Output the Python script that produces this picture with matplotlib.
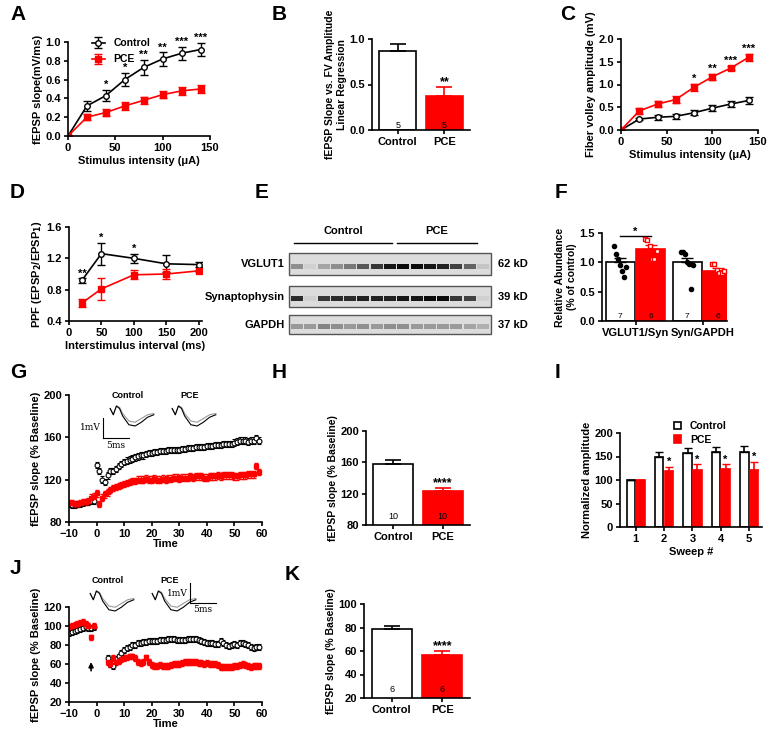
import numpy as np
import matplotlib
matplotlib.use("Agg")
import matplotlib.pyplot as plt
from matplotlib.patches import Rectangle

plt.rcParams["font.family"] = "Liberation Sans"
plt.rcParams["font.weight"] = "bold"
plt.rcParams["axes.labelweight"] = "bold"
plt.rcParams["font.size"] = 7.5
plt.rcParams["axes.linewidth"] = 1.2
plt.rcParams["xtick.major.width"] = 1.2
plt.rcParams["ytick.major.width"] = 1.2
plt.rcParams["axes.labelpad"] = 2

RED = "#ff0000"
W, H = 770, 733

# ---- data ----
# A: fEPSP slope vs stimulus
stim = [0, 20, 40, 60, 80, 100, 120, 140]
a_ctrl = [0, 0.32, 0.43, 0.60, 0.73, 0.82, 0.88, 0.92]
a_ctrl_err = [0, 0.05, 0.06, 0.07, 0.08, 0.07, 0.07, 0.07]
a_pce = [0, 0.20, 0.25, 0.32, 0.38, 0.44, 0.48, 0.50]
a_pce_err = [0, 0.03, 0.04, 0.04, 0.04, 0.04, 0.04, 0.04]
a_stars = {40: "*", 60: "*", 80: "**", 100: "**", 120: "***", 140: "***"}

# B: linear regression slope
groups = ["Control", "PCE"]
b_vals = [0.87, 0.37]
b_err = [0.07, 0.10]
b_n = [5, 5]

# C: fiber volley
c_ctrl = [0, 0.24, 0.28, 0.30, 0.38, 0.48, 0.57, 0.65]
c_ctrl_err = [0, 0.03, 0.05, 0.05, 0.06, 0.07, 0.07, 0.08]
c_pce = [0, 0.42, 0.57, 0.67, 0.94, 1.17, 1.36, 1.60]
c_pce_err = [0, 0.06, 0.06, 0.07, 0.08, 0.07, 0.05, 0.08]
c_stars = {80: "*", 100: "**", 120: "***", 140: "***"}

# D: paired pulse facilitation
isi = [20, 50, 100, 150, 200]
d_ctrl = [0.92, 1.26, 1.20, 1.13, 1.12]
d_ctrl_err = [0.03, 0.14, 0.06, 0.11, 0.03]
d_pce = [0.63, 0.81, 0.99, 1.00, 1.04]
d_pce_err = [0.05, 0.14, 0.06, 0.06, 0.01]
d_stars = {20: "**", 50: "*", 100: "*"}

# E: western blot band intensities per lane
blot_rows = ["VGLUT1", "Synaptophysin", "GAPDH"]
blot_kd = ["62 kD", "39 kD", "37 kD"]
vglut1_lanes = [0.35, 0.05, 0.25, 0.35, 0.45, 0.6, 0.75, 0.9, 0.95, 0.95, 0.9, 0.85, 0.7, 0.55, 0.1]
syn_lanes = [0.8, 0.05, 0.75, 0.8, 0.8, 0.85, 0.85, 0.85, 0.9, 0.9, 0.95, 0.95, 0.75, 0.7, 0.05]
gapdh_lanes = [0.3, 0.3, 0.4, 0.35, 0.3, 0.35, 0.3, 0.35, 0.35, 0.3, 0.3, 0.3, 0.3, 0.25, 0.2]

# F: relative abundance
f_cats = ["VGLUT1/Syn", "Syn/GAPDH"]
f_ctrl = [1.0, 1.0]
f_ctrl_err = [0.08, 0.08]
f_pce = [1.23, 0.86]
f_pce_err = [0.06, 0.04]
f_ctrl_pts = [[1.27, 1.15, 1.05, 0.95, 0.85, 0.75, 0.92], [1.18, 1.17, 1.15, 1.0, 0.98, 0.55, 0.95]]
f_pce_pts = [[1.40, 1.38, 1.27, 1.05, 1.05, 1.20], [0.98, 0.98, 0.87, 0.82, 0.82, 0.85]]
f_n = [[7, 6], [7, 6]]

# G: LTP time course
g_time = list(range(-10, 60))
g_ctrl = [97, 96, 96, 97, 97, 98, 99, 99, 100, 100,
          134, 128, 120, 118, 124, 128, 128, 130, 133, 135,
          137, 138, 139, 140, 141, 142, 143, 143, 144, 145,
          145, 146, 146, 147, 147, 147, 148, 148, 148, 148,
          148, 149, 149, 150, 150, 150, 151, 151, 151, 151,
          152, 152, 152, 153, 153, 153, 154, 154, 154, 154,
          155, 156, 157, 157, 157, 156, 157, 157, 159, 157]
g_pce = [98, 98, 97, 97, 98, 99, 99, 100, 103, 104,
         107, 97, 103, 106, 108, 110, 112, 113, 114, 115,
         116, 117, 118, 119, 119, 120, 120, 120, 121, 120,
         120, 121, 120, 120, 121, 120, 121, 121, 122, 122,
         121, 122, 122, 122, 123, 122, 123, 123, 123, 122,
         122, 123, 123, 123, 124, 123, 124, 124, 124, 124,
         123, 123, 124, 124, 124, 125, 125, 125, 133, 127]

# H: LTP summary
h_vals = [158, 124]
h_err = [5, 3]
h_n = [10, 10]

# I: normalized amplitude per sweep
sweeps = [1, 2, 3, 4, 5]
i_ctrl = [100, 150, 158, 159, 160]
i_ctrl_err = [0, 10, 10, 12, 12]
i_pce = [100, 119, 122, 123, 121]
i_pce_err = [0, 9, 11, 10, 17]

# J: LTD time course (gap 0-3 min)
j_time = list(range(-10, 0)) + list(range(4, 60))
j_ctrl = [93, 94, 95, 96, 97, 98, 99, 98, 98, 99,
          66, 60, 58, 65, 68, 72, 75, 77, 78, 80, 80, 82, 82, 83, 83, 84,
          84, 84, 84, 85, 85, 85, 86, 86, 86, 85, 85, 85, 85, 86, 86, 86,
          86, 85, 84, 83, 82, 82, 82, 81, 81, 84, 82, 80, 79, 80, 81, 80,
          82, 82, 81, 80, 78, 77, 78, 78]
j_pce = [99, 100, 101, 102, 103, 104, 102, 100, 88, 100,
         62, 60, 66, 62, 63, 65, 66, 67, 68, 68, 66, 62, 61, 62, 67, 62,
         59, 58, 58, 59, 58, 58, 58, 59, 60, 60, 60, 61, 62, 62, 62, 62,
         62, 61, 61, 60, 61, 60, 60, 60, 59, 57, 57, 57, 57, 57, 58, 58,
         59, 60, 59, 58, 57, 58, 58, 58]

# K: LTD summary
k_vals = [79, 57]
k_err = [2, 3]
k_n = [6, 6]

# example traces (ms, mV) for insets
tr_t = [0, 0.5, 1, 1.5, 2, 3, 4, 5, 6, 7]
tr_base = [0, -0.5, 0.2, 0.1, -0.4, -1.0, -1.1, -0.8, -0.5, -0.4]
tr_after = [0, -0.5, 0.2, 0.0, -0.6, -1.3, -1.4, -1.1, -0.7, -0.5]

fig = plt.figure(figsize=(W / 100, H / 100), dpi=100)


def axpx(x0, x1, ytop, ybot):
    return fig.add_axes([x0 / W, 1 - ybot / H, (x1 - x0) / W, (ybot - ytop) / H])


def style(ax):
    ax.spines["top"].set_visible(False)
    ax.spines["right"].set_visible(False)
    ax.tick_params(length=3, width=1.2, labelsize=8, pad=2)


def letter(x, y, s):
    fig.text(x / W, 1 - y / H, s, fontsize=15, fontweight="bold", va="center", ha="left")


def two_bars(ax, vals, err, ns, ylo, ytick, stars, ylabel, nfrac=0.06):
    ax.bar([0], [vals[0]], width=0.8, color="white", edgecolor="black", lw=1.2,
           yerr=[[0], [err[0]]], error_kw=dict(ecolor="black", capsize=6, lw=1.2, capthick=1.2))
    ax.bar([1], [vals[1]], width=0.8, color=RED, edgecolor=RED, lw=1.2,
           yerr=[[0], [err[1]]], error_kw=dict(ecolor=RED, capsize=6, lw=1.2, capthick=1.2))
    ax.set_xlim(-0.55, 1.55)
    ax.set_ylim(ylo, ytick[-1])
    ax.set_yticks(ytick)
    ax.set_xticks([0, 1])
    ax.set_xticklabels(groups)
    ax.set_ylabel(ylabel, fontsize=7.5)
    style(ax)
    rng = ytick[-1] - ylo
    for i, n in enumerate(ns):
        ax.text(i, ylo + rng * nfrac, str(n), ha="center", fontsize=6.5, fontweight="normal")
    ax.text(1, vals[1] + err[1] + rng * 0.02, stars, ha="center", fontsize=9)


def curve(ax, x, y, e, col, mk, mfc):
    ax.errorbar(x, y, yerr=e, color=col, marker=mk, ms=4, mfc=mfc, mec=col, mew=1,
                lw=1.2, capsize=3, elinewidth=1)


# A
ax = axpx(68, 210, 42, 136)
curve(ax, stim, a_ctrl, a_ctrl_err, "black", "o", "white")
curve(ax, stim, a_pce, a_pce_err, RED, "s", RED)
for x, s in a_stars.items():
    i = stim.index(x)
    ax.text(x, a_ctrl[i] + a_ctrl_err[i] + 0.02, s, ha="center", fontsize=8)
ax.set_xlim(0, 150); ax.set_ylim(0, 1.0)
ax.set_xticks([0, 50, 100, 150]); ax.set_yticks(np.arange(0, 1.01, 0.2))
ax.set_yticklabels([f"{v:.1f}" for v in np.arange(0, 1.01, 0.2)])
ax.set_xlabel("Stimulus intensity (\u03bcA)", fontsize=8)
ax.set_ylabel("fEPSP slope(mV/ms)", fontsize=8)
ax.legend(["Control", "PCE"], loc="upper left", bbox_to_anchor=(0.1, 1.14), frameon=False,
          fontsize=7.5, handlelength=1.3, labelspacing=0.6)
style(ax)
letter(10, 15, "A")

# B
ax = axpx(372, 470, 39, 130)
two_bars(ax, b_vals, b_err, b_n, 0, [0.0, 0.5, 1.0], "**",
         "fEPSP Slope vs. FV Amplitude\nLinear Regression", nfrac=0.02)
ax.set_yticklabels(["0.0", "0.5", "1.0"])
letter(272, 15, "B")

# C
ax = axpx(621, 758, 39, 130)
curve(ax, stim, c_ctrl, c_ctrl_err, "black", "o", "white")
curve(ax, stim, c_pce, c_pce_err, RED, "s", RED)
for x, s in c_stars.items():
    i = stim.index(x)
    ax.text(x, c_pce[i] + c_pce_err[i] + 0.04, s, ha="center", fontsize=8)
ax.set_xlim(0, 150); ax.set_ylim(0, 2.0)
ax.set_xticks([0, 50, 100, 150]); ax.set_yticks([0, 0.5, 1.0, 1.5, 2.0])
ax.set_yticklabels(["0.0", "0.5", "1.0", "1.5", "2.0"])
ax.set_xlabel("Stimulus intensity (\u03bcA)", fontsize=8)
ax.set_ylabel("Fiber volley amplitude (mV)", fontsize=8)
style(ax)
letter(560, 15, "C")

# D
ax = axpx(69, 202, 227, 321)
curve(ax, isi, d_ctrl, d_ctrl_err, "black", "o", "white")
curve(ax, isi, d_pce, d_pce_err, RED, "s", RED)
for x, s in d_stars.items():
    i = isi.index(x)
    ax.text(x, d_ctrl[i] + d_ctrl_err[i] + 0.02, s, ha="center", fontsize=8)
ax.set_xlim(0, 205); ax.set_ylim(0.4, 1.6)
ax.set_xticks([0, 50, 100, 150, 200]); ax.set_yticks([0.4, 0.8, 1.2, 1.6])
ax.set_xlabel("Interstimulus interval (ms)", fontsize=8)
ax.set_ylabel("PPF (EPSP$_2$/EPSP$_1$)", fontsize=8)
style(ax)
letter(10, 192, "D")

# E: blot
ax = axpx(220, 560, 220, 345)
ax.set_xlim(220, 560); ax.set_ylim(345, 220)
ax.axis("off")
ax.plot([294, 392], [243, 243], color="black", lw=1)
ax.plot([397, 477], [243, 243], color="black", lw=1)
ax.text(343, 234, "Control", ha="center", fontsize=8)
ax.text(437, 234, "PCE", ha="center", fontsize=8)
boxes = [(253, 275), (286, 307), (315, 334)]
for (yt, yb), name, kd, lanes in zip(boxes, blot_rows, blot_kd, [vglut1_lanes, syn_lanes, gapdh_lanes]):
    ax.add_patch(Rectangle((289, yt), 202, yb - yt, facecolor="#dcdcdc", edgecolor="#555555", lw=1))
    xs = np.linspace(297, 483, len(lanes))
    ymid = (yt + yb) / 2 + 2
    for x, a in zip(xs, lanes):
        ax.add_patch(Rectangle((x - 6, ymid - 2.5), 12, 5, facecolor="black", alpha=a, lw=0))
    ax.text(285, (yt + yb) / 2, name, ha="right", va="center", fontsize=8)
    ax.text(498, (yt + yb) / 2, kd, ha="left", va="center", fontsize=8)
letter(255, 192, "E")

# F
ax = axpx(602, 727, 233, 321)
xc = np.array([0, 1.1])
ax.bar(xc - 0.25, f_ctrl, width=0.48, color="white", edgecolor="black", lw=1.2,
       yerr=[[0, 0], f_ctrl_err], error_kw=dict(ecolor="black", capsize=4, lw=1.2))
ax.bar(xc + 0.25, f_pce, width=0.48, color=RED, edgecolor=RED, lw=1.2,
       yerr=[[0, 0], f_pce_err], error_kw=dict(ecolor=RED, capsize=4, lw=1.2))
for k in range(2):
    pts = f_ctrl_pts[k]
    ax.scatter(xc[k] - 0.25 + np.linspace(-0.1, 0.1, len(pts)), pts, s=9, color="black", zorder=3)
    pts = f_pce_pts[k]
    ax.scatter(xc[k] + 0.25 + np.linspace(-0.1, 0.1, len(pts)), pts, s=12, marker="s",
               facecolor="white", edgecolor=RED, lw=1, zorder=3)
    ax.text(xc[k] - 0.25, 0.05, str(f_n[k][0]), ha="center", fontsize=6, fontweight="normal")
    ax.text(xc[k] + 0.25, 0.05, str(f_n[k][1]), ha="center", fontsize=6, fontweight="normal")
ax.plot([-0.25, 0.25], [1.45, 1.45], color="black", lw=1)
ax.text(0, 1.47, "*", ha="center", fontsize=8)
ax.set_xlim(-0.55, 1.5); ax.set_ylim(0, 1.5)
ax.set_yticks([0, 0.5, 1.0, 1.5]); ax.set_yticklabels(["0.0", "0.5", "1.0", "1.5"])
ax.set_xticks(xc); ax.set_xticklabels(f_cats)
ax.set_ylabel("Relative Abundance\n(% of control)", fontsize=7.5)
style(ax)
letter(555, 192, "F")


def inset_traces(x0, y0, labels, scalepos):
    for k, lab in enumerate(labels):
        iax = axpx(x0 + k * 62, x0 + k * 62 + 48, y0, y0 + 22)
        iax.plot(tr_t, tr_base, color="#999999", lw=0.8)
        iax.plot(tr_t, tr_after, color="black", lw=0.8)
        iax.axis("off")
        fig.text((x0 + k * 62 + 20) / W, 1 - (y0 - 7) / H, lab, ha="center", fontsize=6.5)
    sx, sy = scalepos
    fig.add_artist(plt.Line2D([sx / W, sx / W], [1 - sy / H, 1 - (sy + 20) / H], color="black", lw=0.8))
    fig.add_artist(plt.Line2D([sx / W, (sx + 26) / W], [1 - (sy + 20) / H] * 2, color="black", lw=0.8))
    fig.text((sx - 2) / W, 1 - (sy + 10) / H, "1mV", ha="right", va="center", fontsize=6.5,
             fontweight="normal", family="DejaVu Serif")
    fig.text((sx + 13) / W, 1 - (sy + 27) / H, "5ms", ha="center", va="center", fontsize=6.5,
             fontweight="normal", family="DejaVu Serif")


def timecourse(ax, t, c, p, ylim, yticks):
    ax.errorbar(t, c, yerr=3, color="black", marker="o", ms=3.5, mfc="white", mec="black",
                mew=0.8, lw=0, elinewidth=0.6, capsize=1.5)
    ax.errorbar(t, p, yerr=3, color=RED, marker="s", ms=2.5, mfc=RED, mec=RED,
                lw=0, elinewidth=0.6, capsize=1.5)
    ax.set_xlim(-10, 60); ax.set_ylim(*ylim)
    ax.set_xticks(range(-10, 61, 10)); ax.set_yticks(yticks)
    ax.set_xlabel("Time", fontsize=8, labelpad=0)
    ax.set_ylabel("fEPSP slope (% Baseline)", fontsize=8)
    style(ax)


# G
ax = axpx(69, 262, 395, 522)
timecourse(ax, g_time, g_ctrl, g_pce, (80, 200), [80, 120, 160, 200])
inset_traces(108, 405, ["Control", "PCE"], (103, 418))
letter(10, 372, "G")

# H
ax = axpx(366, 470, 431, 525)
two_bars(ax, h_vals, h_err, h_n, 80, [80, 120, 160, 200], "****", "fEPSP slope (% Baseline)")
letter(272, 372, "H")

# I
ax = axpx(620, 762, 433, 527)
xi = np.array(sweeps)
ax.bar(xi - 0.17, i_ctrl, width=0.3, color="white", edgecolor="black", lw=1.2,
       yerr=[[0] * 5, i_ctrl_err], error_kw=dict(ecolor="black", capsize=3, lw=1.2), label="Control")
ax.bar(xi + 0.17, i_pce, width=0.3, color=RED, edgecolor=RED, lw=1.2,
       yerr=[[0] * 5, i_pce_err], error_kw=dict(ecolor=RED, capsize=3, lw=1.2), label="PCE")
for k in range(1, 5):
    ax.text(xi[k] + 0.17, i_pce[k] + i_pce_err[k] + 4, "*", ha="center", fontsize=8)
ax.legend(loc="upper left", bbox_to_anchor=(0.33, 1.2), frameon=False,
          fontsize=7.5, handlelength=0.7, handleheight=0.7, labelspacing=0.3, borderpad=0.2)
ax.set_xlim(0.45, 5.45); ax.set_ylim(0, 200)
ax.set_xticks(sweeps); ax.set_yticks([0, 50, 100, 150, 200])
ax.set_xlabel("Sweep #", fontsize=8)
ax.set_ylabel("Normalized amplitude", fontsize=8)
style(ax)
letter(555, 372, "I")

# J
ax = axpx(69, 262, 607, 702)
timecourse(ax, j_time, j_ctrl, j_pce, (20, 120), [20, 40, 60, 80, 100, 120])
ax.annotate("", xy=(-2, 65), xytext=(-2, 50),
            arrowprops=dict(arrowstyle="-|>", color="black", lw=1.2, mutation_scale=7))
inset_traces(88, 590, ["Control", "PCE"], (190, 583))
letter(10, 568, "J")

# K
ax = axpx(364, 470, 604, 698)
two_bars(ax, k_vals, k_err, k_n, 20, [20, 40, 60, 80, 100], "****", "fEPSP slope (% Baseline)")
letter(285, 575, "K")

fig.savefig("out.png", dpi=100)
